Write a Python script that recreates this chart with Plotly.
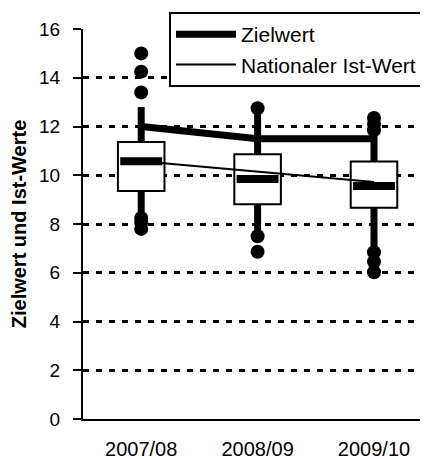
import plotly.graph_objects as go

categories = ["2007/08", "2008/09", "2009/10"]
q1 = [9.35, 8.81, 8.67]
median = [10.57, 9.85, 9.56]
q3 = [11.36, 10.86, 10.56]
lower_fence = [8.4, 7.7, 7.0]
upper_fence = [12.8, 12.5, 11.7]
outliers = [[15.0, 14.25, 13.4, 8.25, 8.05, 7.8],
            [12.75, 7.5, 6.86],
            [12.35, 12.1, 11.85, 6.84, 6.45, 6.02]]
zielwert = [12.0, 11.5, 11.5]
national = [10.57, 10.15, 9.72]
yticks = [0, 2, 4, 6, 8, 10, 12, 14, 16]

FONT = "Arial, Liberation Sans, sans-serif"
xs = list(range(len(categories)))
BOX_W = 0.40
MED_HALF = 0.18

fig = go.Figure()

# whiskers (upper and lower parts, outside the box)
wx, wy = [], []
for i in xs:
    wx += [i, i, None, i, i, None]
    wy += [q3[i], upper_fence[i], None, lower_fence[i], q1[i], None]
fig.add_trace(go.Scatter(x=wx, y=wy, mode="lines", line=dict(color="black", width=7),
                         showlegend=False, hoverinfo="skip"))

# boxes
fig.add_trace(go.Bar(x=xs, y=[q3[i] - q1[i] for i in xs], base=q1, width=BOX_W,
                     marker=dict(color="white", line=dict(color="black", width=2)),
                     showlegend=False, hoverinfo="skip"))

# medians
mx, my = [], []
for i in xs:
    mx += [i - MED_HALF, i + MED_HALF, None]
    my += [median[i], median[i], None]
fig.add_trace(go.Scatter(x=mx, y=my, mode="lines", line=dict(color="black", width=8),
                         showlegend=False, hoverinfo="skip"))

# outliers
ox, oy = [], []
for i in xs:
    for v in outliers[i]:
        ox.append(i)
        oy.append(v)
fig.add_trace(go.Scatter(x=ox, y=oy, mode="markers", marker=dict(color="black", size=14),
                         showlegend=False, hoverinfo="skip"))

fig.add_trace(go.Scatter(x=xs, y=zielwert, mode="lines", name="Zielwert",
                         line=dict(color="black", width=7)))
fig.add_trace(go.Scatter(x=xs, y=national, mode="lines", name="Nationaler Ist-Wert",
                         line=dict(color="black", width=2)))

W, H = 420, 451
L, B = 75, 40
PLOT_W = W - L
PLOT_H = H - B
fig.update_layout(
    width=W, height=H,
    margin=dict(l=L, r=0, t=0, b=B, autoexpand=False),
    paper_bgcolor="white", plot_bgcolor="white",
    font=dict(family=FONT, color="black"),
    barmode="overlay",
    legend=dict(x=(161 - L) / PLOT_W, y=(PLOT_H - 4) / PLOT_H, xanchor="left", yanchor="top",
                bgcolor="white", bordercolor="black", borderwidth=2,
                font=dict(size=21, family=FONT), tracegroupgap=0,
                itemwidth=60),
    xaxis=dict(range=[-0.5, 2.464], tickvals=xs, ticktext=categories, automargin=False,
               showgrid=False, zeroline=False, showline=True, linecolor="black",
               linewidth=2, ticks="", tickfont=dict(size=20), ticklabelstandoff=11),
    yaxis=dict(range=[0, 16], domain=[0, 390 / PLOT_H], tickvals=yticks, automargin=False,
               showgrid=True, gridcolor="black",
               gridwidth=3, griddash="6px,7px", zeroline=False, showline=True,
               linecolor="black", linewidth=2, ticks="outside", ticklen=8,
               tickwidth=2, tickcolor="black", tickfont=dict(size=19),
               ticklabelstandoff=9,
               title=dict(text="<b>Zielwert und Ist-Werte</b>", font=dict(size=20),
                          standoff=7)),
)

fig.write_html("out.html")
